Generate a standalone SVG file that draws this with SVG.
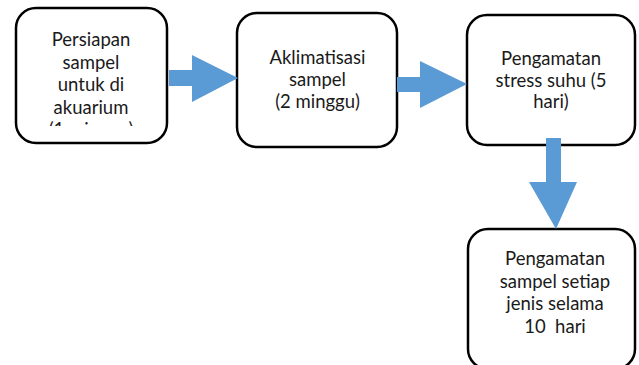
<svg xmlns="http://www.w3.org/2000/svg" width="639" height="365" viewBox="0 0 639 365">
<style>
.box{fill:#fff;stroke:#000;stroke-width:2.5}
.t{font-family:Lato,"Liberation Sans",sans-serif;font-size:18.5px;fill:#1a1a1a;text-anchor:middle;white-space:pre}
.arr{fill:#5B9BD5}
</style>
<defs>
<clipPath id="c1"><rect x="16" y="8" width="152" height="118"/></clipPath>
</defs>
<rect width="639" height="365" fill="#fff"/>
<g id="n1">
<rect class="box" x="16" y="8" width="151" height="135" rx="20"/>
<g clip-path="url(#c1)">
<text class="t" x="91" y="46">Persiapan</text>
<text class="t" x="91" y="68.5">sampel</text>
<text class="t" x="91" y="91">untuk di</text>
<text class="t" x="91" y="113.5">akuarium</text>
<text class="t" x="91" y="136">(1 minggu)</text>
</g>
</g>
<g id="n2">
<rect class="box" x="237" y="13" width="160" height="134" rx="20"/>
<text class="t" x="317.5" y="64">Aklimatisasi</text>
<text class="t" x="317.5" y="86">sampel</text>
<text class="t" x="317.5" y="108">(2 minggu)</text>
</g>
<g id="n3">
<rect class="box" x="467" y="15" width="168" height="130" rx="20"/>
<text class="t" x="551" y="65">Pengamatan</text>
<text class="t" x="551" y="86.5">stress suhu (5</text>
<text class="t" x="551" y="108">hari)</text>
</g>
<g id="n4">
<rect class="box" x="468" y="229" width="167" height="140" rx="20"/>
<text class="t" x="555" y="265">Pengamatan</text>
<text class="t" x="555" y="287.5">sampel setiap</text>
<text class="t" x="555" y="310">jenis selama</text>
<text class="t" x="555" y="332.5" xml:space="preserve">10  hari</text>
</g>
<g id="connectors">
<polygon class="arr" points="169,70 192,70 192,55 238,78 192,102 192,86 169,86"/>
<polygon class="arr" points="397,77 420,77 420,61 467,84 420,108 420,92 397,92"/>
<polygon class="arr" points="546,138 561,138 561,182 577,182 556,229 529,182 546,182"/>
</g>
</svg>
